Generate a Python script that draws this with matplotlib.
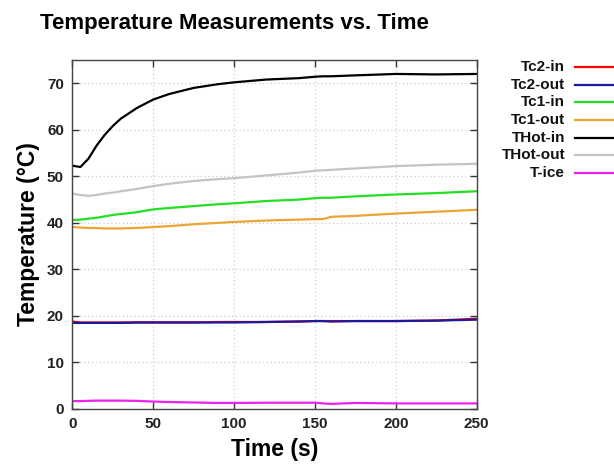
import matplotlib
matplotlib.use("Agg")
import matplotlib.pyplot as plt
from matplotlib.lines import Line2D

plt.rcParams['font.family'] = ['Liberation Sans', 'DejaVu Sans']

time_s = [0, 5, 10, 15, 20, 25, 30, 40, 50, 60, 75, 90, 100, 120, 140, 150, 155, 160, 175, 200, 225, 250]

tc2_in   = [18.8, 18.6, 18.6, 18.6, 18.6, 18.6, 18.6, 18.6, 18.6, 18.6, 18.6, 18.7, 18.7, 18.7, 18.8, 18.9, 18.9, 18.9, 18.9, 18.9, 19.0, 19.4]
tc2_out  = [18.5, 18.5, 18.5, 18.5, 18.5, 18.5, 18.5, 18.6, 18.6, 18.6, 18.6, 18.6, 18.6, 18.7, 18.8, 18.9, 18.9, 18.8, 18.9, 18.9, 19.0, 19.2]
tc1_in   = [40.6, 40.7, 40.9, 41.1, 41.4, 41.7, 41.9, 42.3, 42.9, 43.2, 43.6, 44.0, 44.2, 44.7, 45.0, 45.3, 45.4, 45.4, 45.7, 46.1, 46.4, 46.8]
tc1_out  = [39.1, 39.0, 38.9, 38.9, 38.8, 38.8, 38.8, 38.9, 39.1, 39.3, 39.7, 40.0, 40.2, 40.5, 40.7, 40.8, 40.8, 41.3, 41.5, 42.0, 42.4, 42.8]
thot_in  = [52.3, 52.0, 53.8, 56.6, 58.9, 60.8, 62.4, 64.7, 66.5, 67.7, 69.0, 69.8, 70.2, 70.8, 71.1, 71.4, 71.5, 71.5, 71.7, 72.0, 71.9, 72.0]
thot_out = [46.3, 46.0, 45.8, 46.0, 46.3, 46.5, 46.8, 47.3, 47.9, 48.4, 49.0, 49.4, 49.6, 50.2, 50.8, 51.2, 51.3, 51.4, 51.7, 52.2, 52.5, 52.7]
t_ice    = [1.7, 1.7, 1.75, 1.8, 1.8, 1.8, 1.8, 1.75, 1.6, 1.5, 1.4, 1.3, 1.3, 1.35, 1.35, 1.35, 1.2, 1.1, 1.3, 1.2, 1.2, 1.2]

labels = ["Tc2-in", "Tc2-out", "Tc1-in", "Tc1-out", "THot-in", "THot-out", "T-ice"]
series = [tc2_in, tc2_out, tc1_in, tc1_out, thot_in, thot_out, t_ice]
colors = ["#ff0000", "#1a1aa0", "#22e022", "#eaa535", "#000000", "#c4c4c4", "#ee22ee"]

x_ticks = [0, 50, 100, 150, 200, 250]
y_ticks = [0, 10, 20, 30, 40, 50, 60, 70]

fig = plt.figure(figsize=(6.14, 4.68), dpi=100)
ax = fig.add_axes([72.3/614, 1-409/468, (476.7-72.3)/614, (409-60)/468])

for vals, c in zip(series, colors):
    ax.plot(time_s, vals, color=c, lw=1.6)

ax.set_xlim(0, 250)
ax.set_ylim(0, 75)
ax.set_xticks(x_ticks)
ax.set_yticks(y_ticks)
ax.grid(True, linestyle=(0, (1, 2.5)), color="#c8c8c8", lw=0.8)
ax.tick_params(direction="in", length=5, width=1, top=True, right=True,
               labelsize=11, colors="#333333", pad=6)
for lab in ax.get_xticklabels() + ax.get_yticklabels():
    lab.set_fontweight("bold")
    lab.set_color("#222222")
for sp in ax.spines.values():
    sp.set_color("#444444")
    sp.set_linewidth(1.0)

ax.set_xlabel("Time (s)", fontsize=16.5, fontweight="bold", labelpad=5)
ax.set_ylabel("Temperature (°C)", fontsize=16.5, fontweight="bold", labelpad=5)
fig.text(40/614, 1-23/468, "Temperature Measurements vs. Time", fontsize=16,
         fontweight="bold", ha="left", va="center")

# legend (right side, outside the axes)
row_y = 67
for lab, c in zip(labels, colors):
    yf = 1 - row_y/468
    fig.text(565/614, yf, lab, fontsize=11, fontweight="bold", ha="right", va="center", color="#111111")
    fig.add_artist(Line2D([575/614, 640/614], [yf, yf], color=c, lw=1.6, transform=fig.transFigure))
    row_y += 17.7

fig.savefig("out.png", dpi=100)
